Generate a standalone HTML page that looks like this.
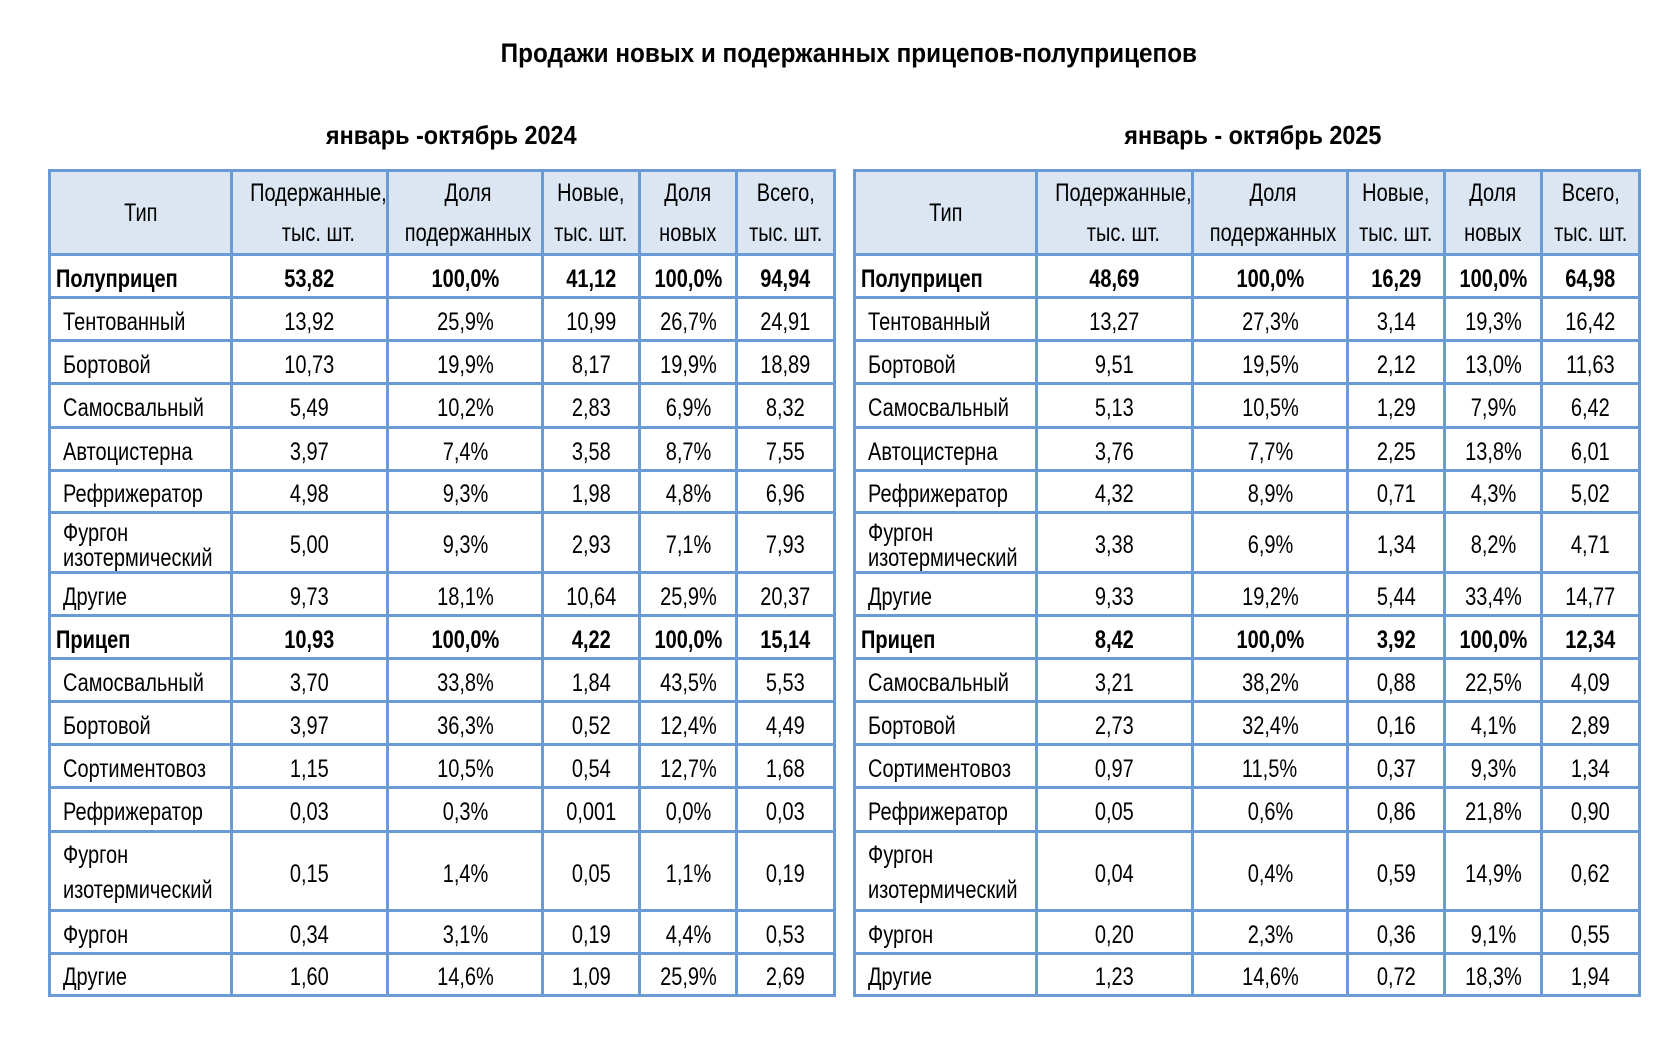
<!DOCTYPE html>
<html><head><meta charset="utf-8">
<style>
html,body{margin:0;padding:0;background:#fff;width:1680px;height:1050px;overflow:hidden;}
body{font-family:"Liberation Sans Narrow","Liberation Sans",sans-serif;color:#000;position:relative;}
.title{position:absolute;top:38px;left:0;width:1698px;text-align:center;font-weight:bold;font-size:27px;}
.title span,.sub span{display:inline-block;transform:scaleX(0.9);}
.sub{position:absolute;top:120px;font-weight:bold;font-size:26px;text-align:center;width:400px;}
table{position:absolute;border-collapse:collapse;table-layout:fixed;border:3px solid #6b9bd7;width:785px;}
td{border:3px solid #6b9bd7;font-size:25px;text-align:center;padding:6px 0 0 0;line-height:25px;white-space:nowrap;overflow:hidden;}
td span{display:inline-block;transform:scaleX(0.8);transform-origin:center;}
tr.h td{background:#dce6f2;line-height:40px;padding:0;}
tr.h td span{line-height:40px;}
tr.tall td.t{padding-top:4px;}
tr.tall td.t span{line-height:35px;}
td.t{text-align:left;padding-left:12px;}
td.t span{transform-origin:left center;}
tr.b td{font-weight:bold;}
tr.b td.t{padding-left:5px;}
</style></head><body>
<div class="title"><span>Продажи новых и подержанных прицепов-полуприцепов</span></div>
<div class="sub" style="left:251px"><span>январь -октябрь 2024</span></div>
<div class="sub" style="left:1053px"><span>январь - октябрь 2025</span></div>
<div id="root"></div>
<script>
const rowTypes = ["Полуприцеп","Тентованный","Бортовой","Самосвальный","Автоцистерна","Рефрижератор","Фургон<br>изотермический","Другие","Прицеп","Самосвальный","Бортовой","Сортиментовоз","Рефрижератор","Фургон<br>изотермический","Фургон","Другие"];
const boldRows = [0,8];
const headers = ["Тип","Подержанные,<br>тыс. шт.","Доля<br>подержанных","Новые,<br>тыс. шт.","Доля<br>новых","Всего,<br>тыс. шт."];
const used2024 = ["53,82","13,92","10,73","5,49","3,97","4,98","5,00","9,73","10,93","3,70","3,97","1,15","0,03","0,15","0,34","1,60"];
const usedShare2024 = ["100,0%","25,9%","19,9%","10,2%","7,4%","9,3%","9,3%","18,1%","100,0%","33,8%","36,3%","10,5%","0,3%","1,4%","3,1%","14,6%"];
const new2024 = ["41,12","10,99","8,17","2,83","3,58","1,98","2,93","10,64","4,22","1,84","0,52","0,54","0,001","0,05","0,19","1,09"];
const newShare2024 = ["100,0%","26,7%","19,9%","6,9%","8,7%","4,8%","7,1%","25,9%","100,0%","43,5%","12,4%","12,7%","0,0%","1,1%","4,4%","25,9%"];
const total2024 = ["94,94","24,91","18,89","8,32","7,55","6,96","7,93","20,37","15,14","5,53","4,49","1,68","0,03","0,19","0,53","2,69"];
const used2025 = ["48,69","13,27","9,51","5,13","3,76","4,32","3,38","9,33","8,42","3,21","2,73","0,97","0,05","0,04","0,20","1,23"];
const usedShare2025 = ["100,0%","27,3%","19,5%","10,5%","7,7%","8,9%","6,9%","19,2%","100,0%","38,2%","32,4%","11,5%","0,6%","0,4%","2,3%","14,6%"];
const new2025 = ["16,29","3,14","2,12","1,29","2,25","0,71","1,34","5,44","3,92","0,88","0,16","0,37","0,86","0,59","0,36","0,72"];
const newShare2025 = ["100,0%","19,3%","13,0%","7,9%","13,8%","4,3%","8,2%","33,4%","100,0%","22,5%","4,1%","9,3%","21,8%","14,9%","9,1%","18,3%"];
const total2025 = ["64,98","16,42","11,63","6,42","6,01","5,02","4,71","14,77","12,34","4,09","2,89","1,34","0,90","0,62","0,55","1,94"];

const colW=[182,156,155,97,97,98];
const rowH=[84,43,43,43,44,43,42,60,43,43,43,43,43,44,79,43,42];
const colNames=["type","used","used-share","new","new-share","total"];
function build(left,top,cols,name){
  const t=document.createElement('table');
  
  
  t.style.left=left+'px';t.style.top=top+'px';
  const cg=document.createElement('colgroup');
  colW.forEach(w=>{const c=document.createElement('col');c.style.width=w+'px';cg.appendChild(c);});
  t.appendChild(cg);
  const hr=document.createElement('tr');hr.className='h';hr.style.height=rowH[0]+'px';
  
  
  headers.forEach((h,i)=>{const d=document.createElement('td');d.innerHTML='<span>'+h+'</span>';
    
    
    hr.appendChild(d);});
  t.appendChild(hr);
  rowTypes.forEach((rt,r)=>{
    const tr=document.createElement('tr');
    let cls=[];
    if(boldRows.includes(r))cls.push('b');
    if(r===13)cls.push('tall');
    tr.className=cls.join(' ');
    tr.style.height=rowH[r+1]+'px';
    
    
    const d0=document.createElement('td');d0.className='t';d0.innerHTML='<span>'+rt+'</span>';
    
    
    tr.appendChild(d0);
    cols.forEach((arr,ci)=>{const d=document.createElement('td');
      const s=document.createElement('span');s.textContent=arr[r];d.appendChild(s);
      
      
      tr.appendChild(d);});
    t.appendChild(tr);
  });
  document.getElementById('root').appendChild(t);
}
build(48,169,[used2024,usedShare2024,new2024,newShare2024,total2024],'table-2024');
build(853,169,[used2025,usedShare2025,new2025,newShare2025,total2025],'table-2025');
</script>
</body></html>
